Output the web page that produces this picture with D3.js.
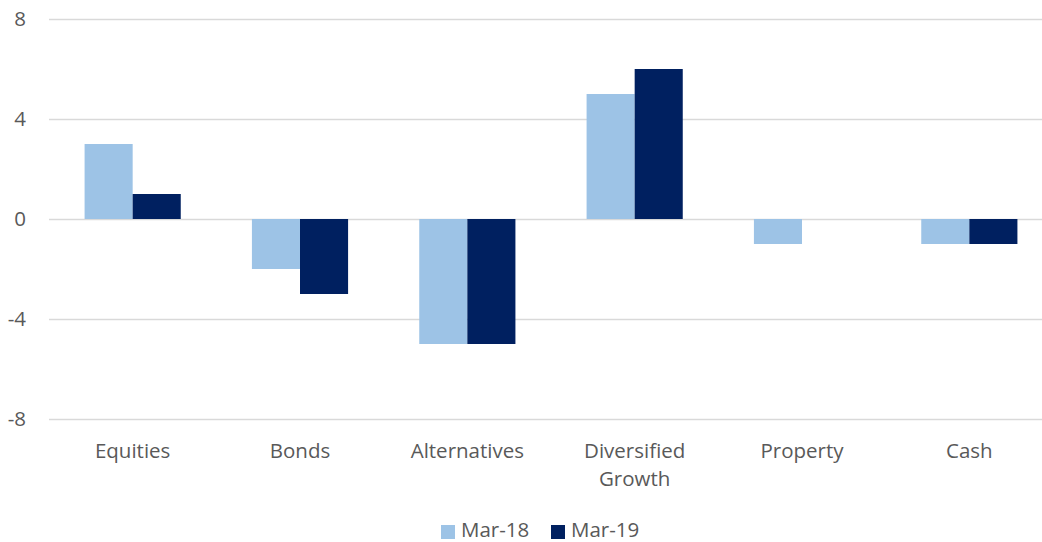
<!DOCTYPE html>
<html>
<head>
<meta charset="utf-8">
<script src="https://cdn.jsdelivr.net/npm/d3@7"></script>
<style>
  body { margin: 0; background: #fff; }
  svg { display: block; }
</style>
</head>
<body>
<script>
// chart data
const categories = ['Equities', 'Bonds', 'Alternatives', 'Diversified Growth', 'Property', 'Cash'];
const seriesNames = ['Mar-18', 'Mar-19'];
const mar18 = [3, -2, -5, 5, -1, -1];
const mar19 = [1, -3, -5, 6, 0, -1];
const yTicks = [-8, -4, 0, 4, 8];
const colors = ['#9DC3E6', '#002060'];

const width = 1042;
const height = 542;
const margin = {top: 19, right: -11, bottom: 123, left: 49};
const fontSize = 20.5;

const svg = d3.select('body')
  .append('svg')
  .attr('width', width)
  .attr('height', height)
  .style('font-family', '"Open Sans", sans-serif');

const yScale = d3.scaleLinear()
  .domain([-8, 8])
  .range([height - margin.bottom, margin.top]);

const xScale = d3.scaleBand()
  .domain(categories)
  .range([margin.left, width - margin.right]);

// each category holds the two bars side by side
const subScale = d3.scaleBand()
  .domain(seriesNames)
  .range([0, xScale.bandwidth()])
  .paddingInner(0)
  .paddingOuter(0.74);

// gridlines + y labels (plain hyphen like the original, not the unicode minus)
const yAxis = d3.axisLeft(yScale)
  .tickValues(yTicks)
  .tickFormat(d => String(d))
  .tickSize(-(width - margin.right - margin.left))
  .tickPadding(23);

svg.append('g')
  .attr('transform', `translate(${margin.left},0)`)
  .call(yAxis)
  .call(g => g.select('.domain').remove())
  .call(g => g.selectAll('line').attr('stroke', '#d9d9d9').attr('stroke-width', 1.5))
  .call(g => g.selectAll('text')
    .attr('fill', '#595959')
    .attr('font-size', fontSize)
    .attr('font-family', '"Open Sans", sans-serif'));

// bars
const rows = categories.map((c, i) => ({name: c, values: [mar18[i], mar19[i]]}));

svg.append('g')
  .selectAll('g')
  .data(rows)
  .join('g')
  .attr('transform', d => `translate(${xScale(d.name)},0)`)
  .selectAll('rect')
  .data(d => d.values.map((v, j) => ({key: seriesNames[j], value: v, color: colors[j]})))
  .join('rect')
  .attr('x', d => subScale(d.key))
  .attr('y', d => yScale(Math.max(0, d.value)))
  .attr('width', subScale.bandwidth())
  .attr('height', d => Math.abs(yScale(d.value) - yScale(0)))
  .attr('fill', d => d.color);

// category labels (wrapped like the original)
const labelLines = {'Diversified Growth': ['Diversified', 'Growth']};
const xLabels = svg.append('g')
  .selectAll('text')
  .data(categories)
  .join('text')
  .attr('x', d => xScale(d) + xScale.bandwidth() / 2)
  .attr('y', 458)
  .attr('text-anchor', 'middle')
  .attr('fill', '#595959')
  .attr('font-size', fontSize);

xLabels.selectAll('tspan')
  .data(d => labelLines[d] || [d])
  .join('tspan')
  .attr('x', function() { return d3.select(this.parentNode).attr('x'); })
  .attr('dy', (d, i) => i === 0 ? 0 : 28)
  .text(d => d);

// legend
const legendX = [441, 551];
const legend = svg.append('g')
  .selectAll('g')
  .data(seriesNames)
  .join('g')
  .attr('transform', (d, i) => `translate(${legendX[i]},525)`);

legend.append('rect')
  .attr('width', 14)
  .attr('height', 14)
  .attr('fill', (d, i) => colors[i]);

legend.append('text')
  .attr('x', 20)
  .attr('y', 12)
  .attr('fill', '#595959')
  .attr('font-size', fontSize)
  .text(d => d);
</script>
</body>
</html>
